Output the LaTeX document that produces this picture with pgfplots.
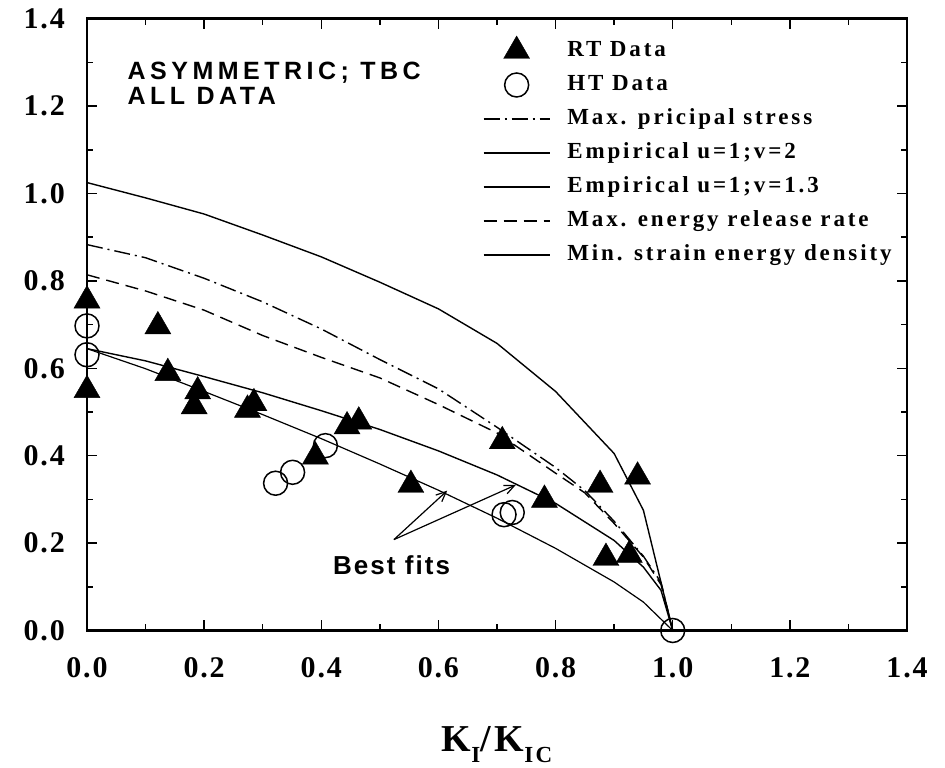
\documentclass[border=0pt]{standalone}
\usepackage{fontspec}
\setmainfont{Liberation Serif}
\newfontfamily\tickfont[LetterSpace=6]{Liberation Serif}
\newfontfamily\legfont[LetterSpace=12.5]{Liberation Serif}
\newfontfamily\labfont[LetterSpace=10]{Liberation Serif}
\newfontfamily\annfont[LetterSpace=18]{Liberation Sans}
\newfontfamily\bestfont[LetterSpace=8]{Liberation Sans}
\usepackage{pgfplots}
\pgfplotsset{compat=1.18}
\usetikzlibrary{arrows.meta}

\begin{document}
\begin{tikzpicture}
\path[use as bounding box] (-87pt,-137.5pt) rectangle (858pt,630.5pt);
\begin{axis}[
  at={(0pt,0pt)}, anchor=south west,
  scale only axis, width=820pt, height=611.8pt,
  xmin=0, xmax=1.4, ymin=0, ymax=1.4,
  clip=false,
  xtick={0,0.2,0.4,0.6,0.8,1.0,1.2,1.4},
  ytick={0,0.2,0.4,0.6,0.8,1.0,1.2,1.4},
  minor tick num=1,
  tick align=inside,
  major tick length=10pt, minor tick length=6pt,
  axis line style={line width=2.5pt},
  every tick/.append style={black, line width=1.5pt},
  /pgf/number format/.cd, fixed, fixed zerofill, precision=1, assume math mode=true,
  /pgfplots/.cd,
  xticklabel style={font=\tickfont\bfseries\fontsize{30}{30}\selectfont, inner sep=0pt, anchor=north, yshift=-27pt},
  yticklabel style={font=\tickfont\bfseries\fontsize{30}{30}\selectfont, inner sep=0pt, anchor=east, xshift=-22pt},
  xlabel={K\raisebox{-11pt}{\fontsize{23}{23}\selectfont I}/K\raisebox{-11pt}{\fontsize{23}{23}\selectfont IC}},
  xlabel style={font=\labfont\bfseries\fontsize{38}{38}\selectfont, at={(axis description cs:0.5,0)}, anchor=base, inner sep=0pt, yshift=-121pt},
  legend image code/.code={\draw[mark repeat=2,mark phase=2,#1] plot coordinates {(0pt,0pt) (33pt,0pt) (66pt,0pt)};},
  legend cell align=left,
  legend style={draw=none, fill=none, inner sep=0pt, outer sep=0pt,
    at={(axis cs:0.676,1.365)}, anchor=north west,
    font=\legfont\bfseries\fontsize{23}{23}\selectfont,
    row sep=0pt,
    nodes={inner xsep=17pt, inner ysep=0pt, text height=17pt, text depth=6pt, minimum height=34pt}},
]
% RT data
\addplot[only marks, mark=triangle*, mark size=15pt, mark options={fill=black, draw=black}] coordinates {
 (0.0,0.755) (0.0,0.55) (0.121,0.696) (0.138,0.589) (0.189,0.547) (0.183,0.513)
 (0.285,0.520) (0.274,0.505) (0.464,0.478) (0.444,0.467) (0.390,0.398) (0.553,0.333)
 (0.709,0.433) (0.781,0.299) (0.876,0.333) (0.940,0.352) (0.886,0.166) (0.926,0.173)
};
% HT data
\addplot[only marks, mark=o, mark size=12pt, mark options={line width=1.5pt, draw=black}] coordinates {
 (0.0,0.697) (0.0,0.631) (0.322,0.337) (0.351,0.362) (0.407,0.423)
 (0.712,0.265) (0.726,0.270) (1.0,0.0)
};
% Max principal stress
\addplot[black, line width=1.4pt, dash pattern=on 16pt off 5pt on 2pt off 5pt] coordinates {
 (0,0.883) (0.1,0.853) (0.2,0.806) (0.3,0.752) (0.4,0.690) (0.5,0.620) (0.6,0.553)
 (0.7,0.465) (0.8,0.373) (0.85,0.320) (0.9,0.250) (0.95,0.170) (0.98,0.110) (1.0,0.0)
};
% Empirical u=1; v=2
\addplot[black, line width=1.4pt] coordinates {
 (0,0.645) (0.1,0.617) (0.2,0.581) (0.3,0.544) (0.4,0.503) (0.5,0.460) (0.6,0.411)
 (0.7,0.356) (0.8,0.291) (0.9,0.206) (0.95,0.145) (0.98,0.092) (1.0,0.0)
};
% Empirical u=1; v=1.3
\addplot[black, line width=1.2pt] coordinates {
 (0,0.645) (0.1,0.599) (0.2,0.547) (0.3,0.494) (0.4,0.439) (0.5,0.381) (0.6,0.321)
 (0.7,0.257) (0.8,0.188) (0.9,0.111) (0.95,0.065) (1.0,0.0)
};
% Max energy release rate
\addplot[black, line width=1.4pt, dash pattern=on 13pt off 7pt] coordinates {
 (0,0.814) (0.1,0.777) (0.2,0.733) (0.3,0.675) (0.4,0.625) (0.5,0.578) (0.6,0.517)
 (0.7,0.452) (0.8,0.360) (0.85,0.315) (0.9,0.245) (0.95,0.168) (0.98,0.105) (1.0,0.0)
};
% Min strain energy density
\addplot[black, line width=1.4pt] coordinates {
 (0,1.025) (0.1,0.990) (0.2,0.953) (0.3,0.905) (0.4,0.855) (0.5,0.797) (0.6,0.736)
 (0.7,0.657) (0.8,0.547) (0.9,0.405) (0.95,0.275) (1.0,0.0)
};
\legend{RT Data, HT Data, Max. pricipal stress, Empirical u=1;v=2, Empirical u=1;v=1.3, Max. energy release rate, Min. strain energy density}

\node[anchor=north west, inner sep=0pt, align=left, font=\annfont\bfseries\fontsize{25}{25}\selectfont] at (axis cs:0.069,1.302) {ASYMMETRIC; TBC\\ALL DATA};
\node[anchor=base, inner sep=0pt, font=\bestfont\bfseries\fontsize{26}{26}\selectfont] at (axis cs:0.520,0.1275) {Best fits};
\draw[line width=1.2pt, -{Straight Barb[length=10pt, width=9pt, line width=1.2pt]}] (axis cs:0.524,0.208) -- (axis cs:0.615,0.320);
\draw[line width=1.2pt, -{Straight Barb[length=10pt, width=9pt, line width=1.2pt]}] (axis cs:0.524,0.208) -- (axis cs:0.732,0.333);
\end{axis}
\end{tikzpicture}
\end{document}
